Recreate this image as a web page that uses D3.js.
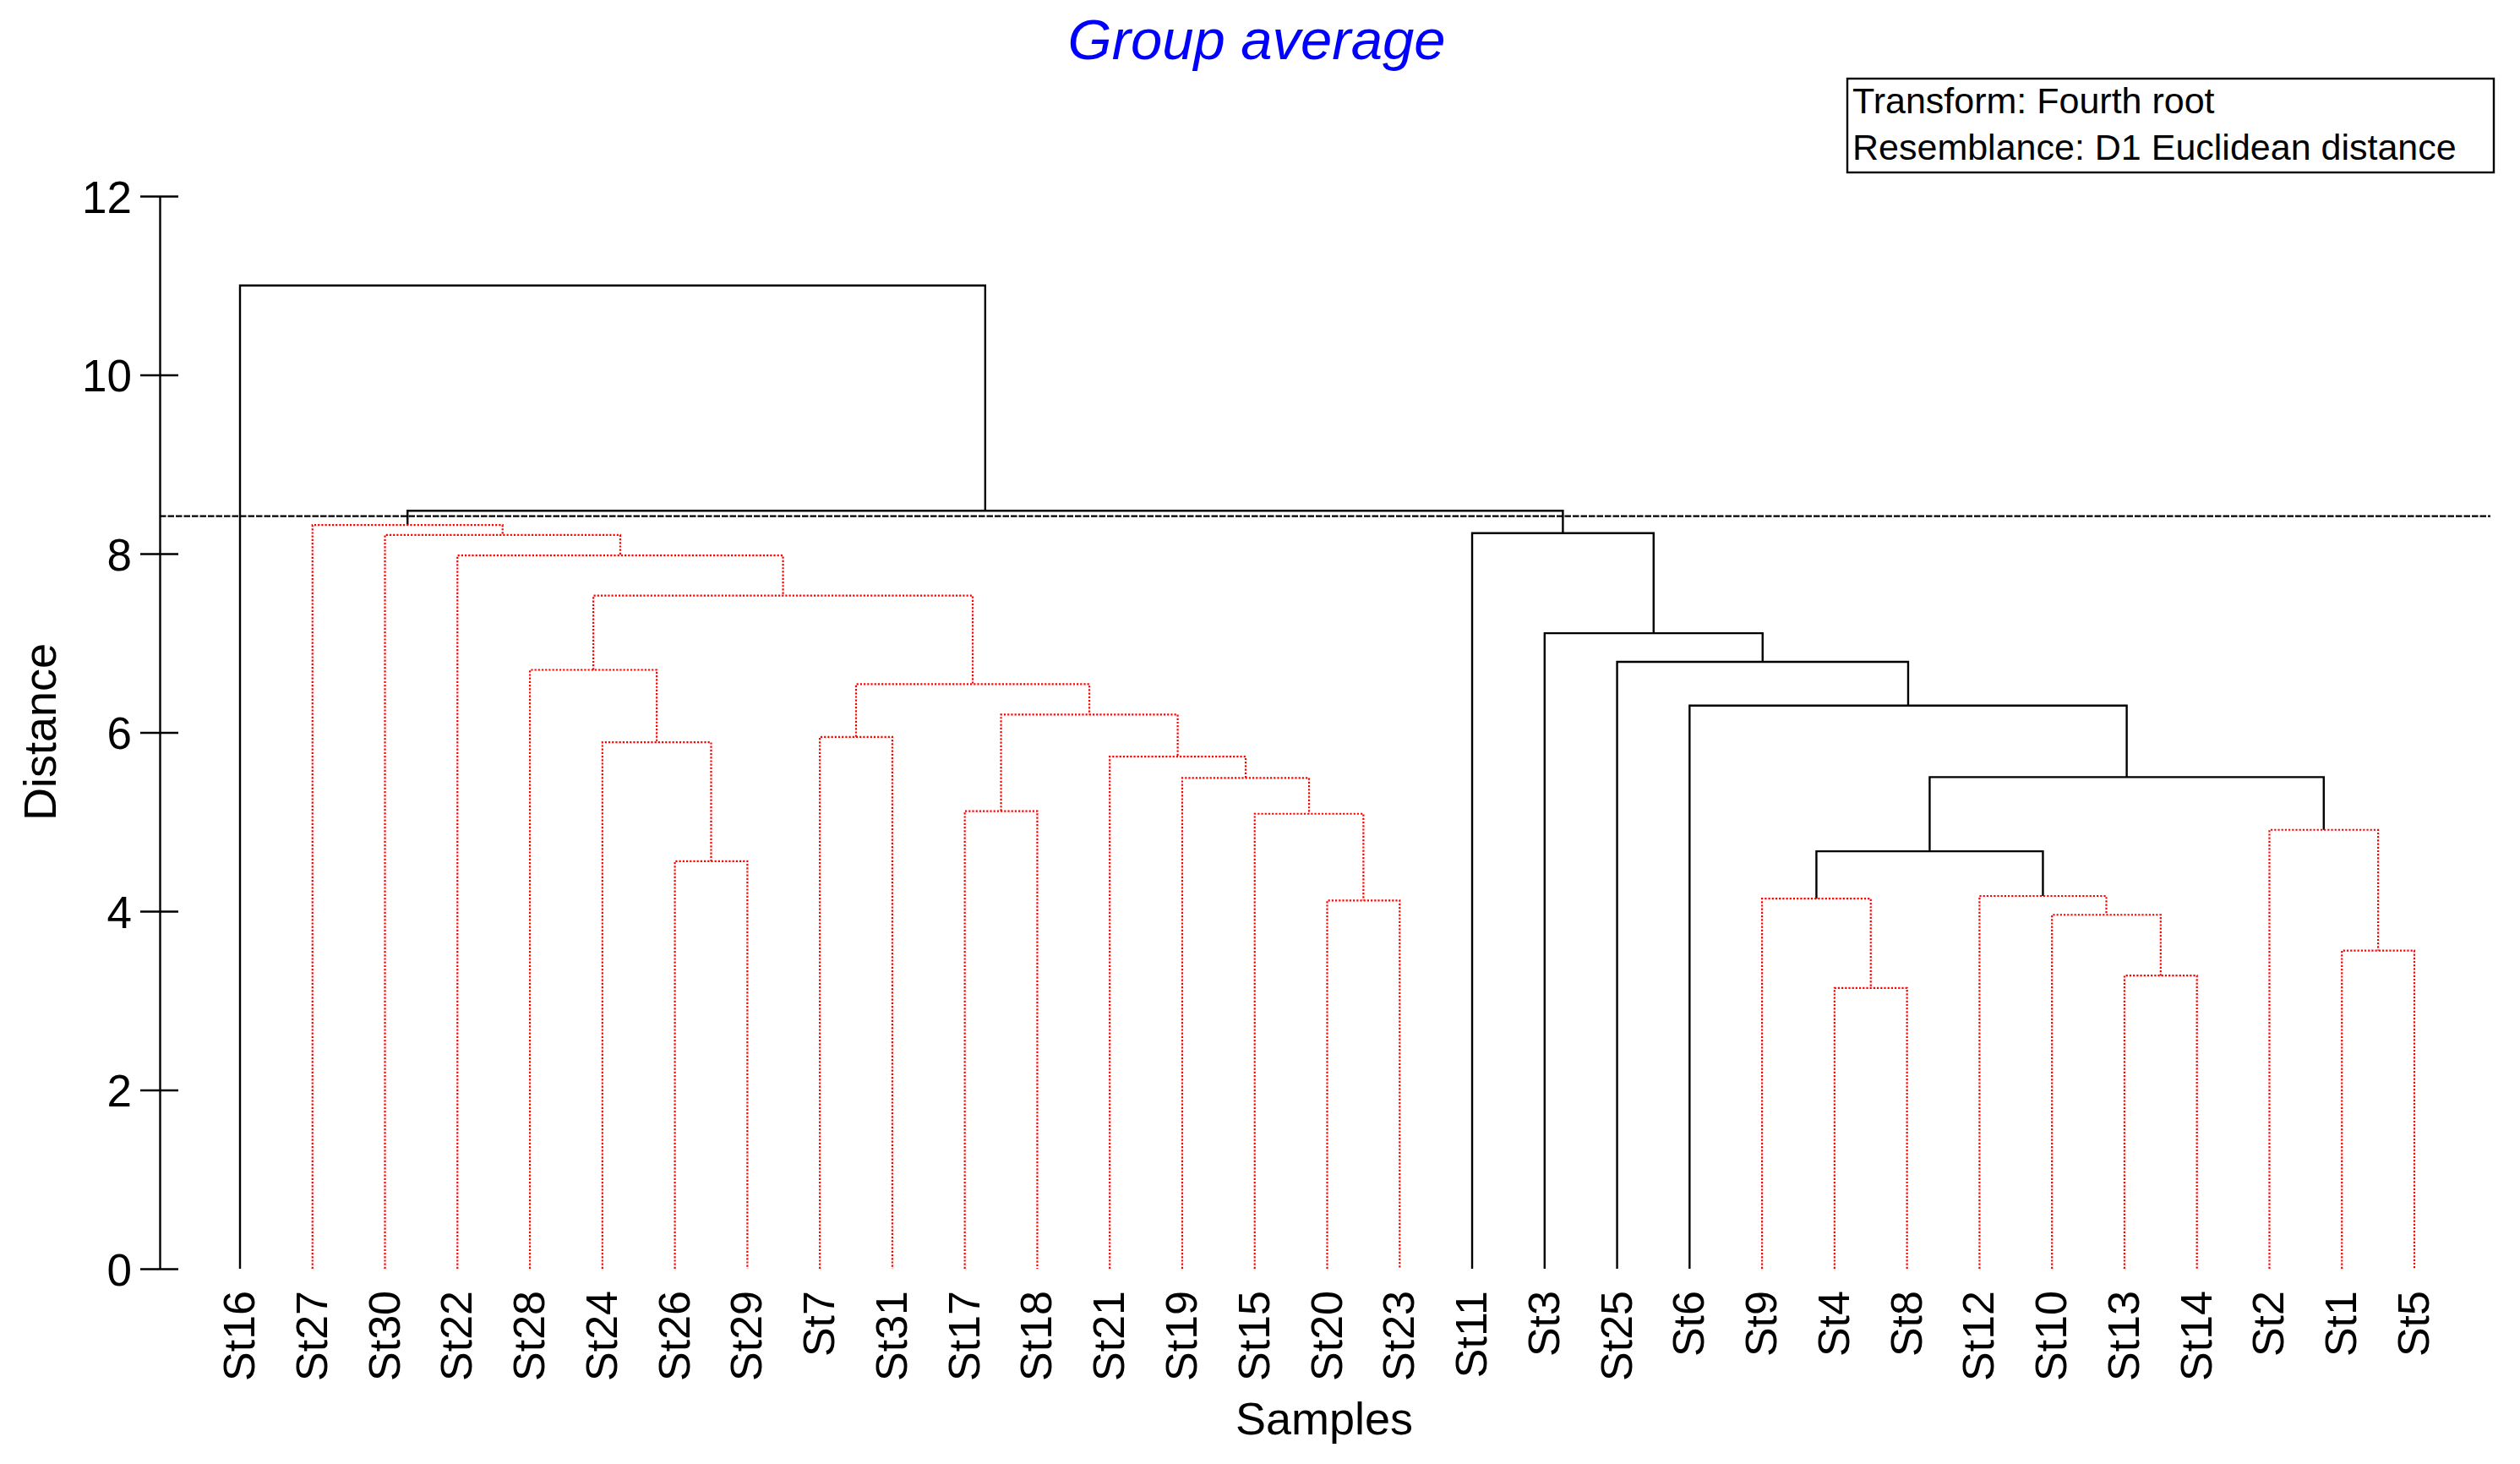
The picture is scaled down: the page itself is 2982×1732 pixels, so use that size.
<!DOCTYPE html>
<html>
<head>
<meta charset="utf-8">
<script src="https://cdn.jsdelivr.net/npm/d3@7"></script>
<style>
  body { margin: 0; background: #fff; }
  svg { display: block; font-family: "Liberation Sans", Arial, sans-serif; }
</style>
</head>
<body>
<svg id="chart" width="2982" height="1732"></svg>
<script>
// leaf order along the x axis
const samples = ["St16", "St27", "St30", "St22", "St28", "St24", "St26", "St29", "St7", "St31",
    "St17", "St18", "St21", "St19", "St15", "St20", "St23", "St11", "St3", "St25",
    "St6", "St9", "St4", "St8", "St12", "St10", "St13", "St14", "St2", "St1", "St5"];

// linkage: [node id, left child, right child, distance]
const linkage = [
    ["L1", "St26", "St29", 4.56],
    ["L2", "St24", "L1", 5.89],
    ["L3", "St28", "L2", 6.70],
    ["L4", "St20", "St23", 4.12],
    ["L5", "St15", "L4", 5.09],
    ["L6", "St19", "L5", 5.49],
    ["L7", "St21", "L6", 5.73],
    ["L8", "St17", "St18", 5.12],
    ["L9", "L8", "L7", 6.20],
    ["L10", "St7", "St31", 5.95],
    ["L11", "L10", "L9", 6.54],
    ["L12", "L3", "L11", 7.53],
    ["L13", "St22", "L12", 7.98],
    ["L14", "St30", "L13", 8.21],
    ["L15", "St27", "L14", 8.32],
    ["R1", "St4", "St8", 3.14],
    ["R2", "St9", "R1", 4.14],
    ["R3", "St13", "St14", 3.28],
    ["R4", "St10", "R3", 3.96],
    ["R5", "St12", "R4", 4.17],
    ["R6", "R2", "R5", 4.67],
    ["R7", "St1", "St5", 3.56],
    ["R8", "St2", "R7", 4.91],
    ["R9", "R6", "R8", 5.50],
    ["R10", "St6", "R9", 6.30],
    ["R11", "St25", "R10", 6.79],
    ["R12", "St3", "R11", 7.11],
    ["R13", "St11", "R12", 8.23],
    ["T1", "L15", "R13", 8.48],
    ["T2", "St16", "T1", 11.0]
];

// nodes with no significant structure (drawn red dotted)
const notSignificant = ["L1", "L2", "L3", "L4", "L5", "L6", "L7", "L8", "L9", "L10", "L11", "L12",
    "L13", "L14", "L15", "R1", "R2", "R3", "R4", "R5", "R7", "R8"];

const yTicks = [0, 2, 4, 6, 8, 10, 12];
const sliceDistance = 8.42;
const titleText = "Group average";
const legendLines = ["Transform: Fourth root", "Resemblance: D1 Euclidean distance"];

const svg = d3.select("#chart");

const x = d3.scalePoint().domain(samples).range([284, 2857]);
const y = d3.scaleLinear().domain([0, 12]).range([1501, 232]);

// build tree from linkage
const nodes = {};
samples.forEach(s => nodes[s] = { id: s, h: 0 });
linkage.forEach(([id, a, b, h]) => {
    nodes[id] = { id: id, h: h, children: [nodes[a], nodes[b]] };
});
const root = d3.hierarchy(nodes[linkage[linkage.length - 1][0]]);
root.eachAfter(n => {
    if (!n.children) n.px = x(n.data.id);
    else n.px = (n.children[0].px + n.children[1].px) / 2;
});

const internal = root.descendants().filter(n => n.children);
const isRed = n => notSignificant.includes(n.data.id);

svg.append("g")
    .selectAll("path")
    .data(internal)
    .join("path")
    .attr("fill", "none")
    .attr("d", n => {
        const [a, b] = n.children;
        return `M${a.px},${y(a.data.h)}V${y(n.data.h)}H${b.px}V${y(b.data.h)}`;
    })
    .attr("stroke", n => isRed(n) ? "#ff0000" : "#000")
    .attr("stroke-width", n => isRed(n) ? 2.2 : 2.4)
    .attr("stroke-dasharray", n => isRed(n) ? "2.2,2" : null);

// slice line
svg.append("line")
    .attr("x1", 189).attr("x2", 2947)
    .attr("y1", y(sliceDistance)).attr("y2", y(sliceDistance))
    .attr("stroke", "#000")
    .attr("stroke-width", 2.4)
    .attr("stroke-dasharray", "7.5,2");

// y axis
const yAxis = svg.append("g")
    .attr("transform", "translate(189,0)")
    .call(d3.axisLeft(y).tickValues(yTicks).tickSizeInner(23).tickSizeOuter(0).tickPadding(10));
yAxis.select(".domain").attr("stroke-width", 2.4);
yAxis.selectAll(".tick line").attr("x1", 22).attr("stroke-width", 2.4);
yAxis.selectAll(".tick text")
    .attr("font-size", "53px")
    .attr("font-family", "'Liberation Sans', Arial, sans-serif")
    .attr("dy", "0.36em")
    .attr("fill", "#000");

// sample labels
svg.append("g")
    .selectAll("text")
    .data(samples)
    .join("text")
    .attr("transform", d => `translate(${x(d) + 17},1527) rotate(-90)`)
    .attr("text-anchor", "end")
    .attr("font-size", "52px")
    .text(d => d);

// axis titles
svg.append("text")
    .attr("transform", "translate(66,866) rotate(-90)")
    .attr("text-anchor", "middle")
    .attr("font-size", "54px")
    .text("Distance");

svg.append("text")
    .attr("x", 1567).attr("y", 1697)
    .attr("text-anchor", "middle")
    .attr("font-size", "54px")
    .text("Samples");

// title
svg.append("text")
    .attr("x", 1487).attr("y", 70)
    .attr("text-anchor", "middle")
    .attr("font-size", "67px")
    .attr("font-style", "italic")
    .attr("fill", "#0000ff")
    .text(titleText);

// legend box
const legend = svg.append("g");
legend.append("rect")
    .attr("x", 2186).attr("y", 93)
    .attr("width", 765).attr("height", 111)
    .attr("fill", "#fff")
    .attr("stroke", "#000")
    .attr("stroke-width", 2.4);
legend.selectAll("text")
    .data(legendLines)
    .join("text")
    .attr("x", 2192)
    .attr("y", (d, i) => 134 + i * 55)
    .attr("font-size", "43px")
    .text(d => d);
</script>
</body>
</html>
